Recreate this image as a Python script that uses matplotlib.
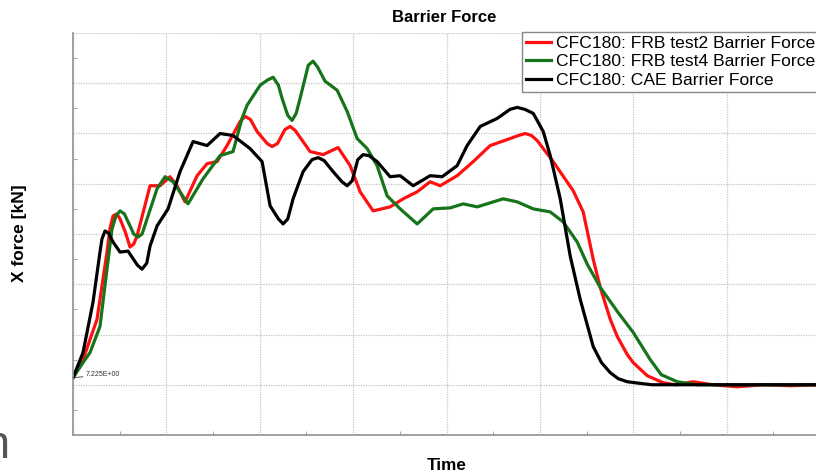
import matplotlib
matplotlib.use("Agg")
import matplotlib.pyplot as plt
from matplotlib.ticker import MultipleLocator, NullFormatter

plt.rcParams['font.family'] = ['Liberation Sans', 'DejaVu Sans']

# time [ms] and barrier force [kN]
t_test2 = [0, 1.07, 2.57, 3.64, 3.95, 4.29, 4.7, 5.04, 5.6, 6.11, 6.5, 6.86, 8.25, 9.32,
           10.39, 11.14, 12.0, 13.29, 14.36, 15.43, 16.5, 17.9, 18.43, 19.0, 19.71,
           20.8, 21.32, 21.9, 22.7, 23.25, 23.8, 25.39, 26.79, 28.39, 29.68, 30.75,
           32.14, 33.96, 35.36, 36.86, 38.25, 39.32, 41.14, 42.86, 44.68, 46.82, 47.7,
           48.43, 49.1, 49.71, 51.43, 53.57, 54.64, 55.71, 56.46, 57.54, 58.29, 59.36,
           60.0, 61.5, 63.2, 64.5, 66.43, 68.5, 71.14, 74.0, 76.82, 80.0]
f_test2 = [7, 25, 65, 132, 155, 168, 170, 165, 152, 137, 140, 148, 198, 198,
           207, 198, 182, 208, 220, 222, 238, 262, 267, 264, 252,
           240, 237, 240, 254, 257, 253, 232, 229, 236, 218, 192,
           173, 177, 185, 192, 202, 198, 208, 222, 238, 245, 248,
           250, 248, 243, 222, 193, 172, 125, 97, 65, 48, 30,
           22, 9, 2, 0, 3, 0, -2, 0, -1, 0]

t_test4 = [0, 1.07, 1.82, 2.89, 3.64, 4.18, 4.6, 5.04, 5.5, 6.11, 6.5, 6.96, 7.4, 7.93,
           9.0, 9.86, 10.71, 12.32, 13.93, 15.75, 17.14, 18.1, 18.64, 20.04, 20.8, 21.43,
           22.0, 22.39, 23.0, 23.46, 23.9, 24.32, 25.2, 25.71, 26.2, 27.0, 28.29, 29.36,
           30.43, 31.5, 32.57, 33.64, 35.04, 36.86, 38.57, 40.39, 41.79, 43.29, 46.07,
           47.57, 49.29, 51.11, 52.5, 54.0, 55.07, 56.46, 58.29, 60.0, 61.82, 63.0,
           64.71, 66.86, 80.0]
f_test4 = [7, 22, 32, 58, 115, 155, 168, 173, 170, 158, 150, 147, 150, 165,
           195, 207, 202, 180, 205, 228, 232, 265, 278, 298, 303, 306,
           298, 285, 268, 263, 270, 285, 318, 322, 316, 302, 293, 272,
           245, 235, 218, 188, 175, 160, 175, 176, 180, 177, 185,
           182, 175, 172, 162, 142, 120, 97, 73, 52, 25, 10,
           3, 0, 0]

t_cae = [0, 1.07, 2.14, 2.89, 3.1, 3.43, 3.8, 4.29, 5.04, 5.89, 6.9, 7.39, 7.9, 8.25,
         9.0, 10.18, 11.46, 12.86, 14.36, 15.75, 17.14, 18.96, 20.25, 21.11, 22.0,
         22.5, 23.0, 23.57, 24.64, 25.6, 26.25, 26.9, 27.86, 28.8, 29.36, 29.9, 30.5,
         31.07, 31.7, 32.57, 33.96, 35.04, 36.43, 38.25, 39.54, 41.14, 42.21, 43.61,
         45.43, 46.8, 47.57, 48.4, 49.29, 50.36, 51.11, 52.18, 53.25, 54.32, 55.71,
         56.6, 57.54, 58.4, 59.36, 61.07, 62.0, 80.0]
f_cae = [7, 32, 82, 132, 145, 153, 151, 142, 132, 133, 119, 115, 121, 138,
         158, 175, 212, 242, 238, 250, 248, 235, 222, 178, 165,
         160, 165, 185, 212, 224, 226, 223, 212, 202, 198, 203, 224,
         229, 228, 222, 207, 208, 198, 208, 207, 218, 238, 257,
         265, 274, 276, 274, 270, 252, 228, 185, 128, 85, 38,
         22, 12, 6, 3, 1, 0, 0]

labels = ['CFC180: FRB test2 Barrier Force',
          'CFC180: FRB test4 Barrier Force',
          'CFC180: CAE Barrier Force']

fig = plt.figure(figsize=(8.16, 4.72), dpi=100)
ax = fig.add_axes([73 / 816, 1 - 435 / 472, (820 - 73) / 816, 402 / 472])

ax.plot(t_test2, f_test2, color='#ff1010', lw=2.3, label=labels[0], solid_joinstyle='round')
ax.plot(t_test4, f_test4, color='#16741a', lw=2.3, label=labels[1], solid_joinstyle='round')
ax.plot(t_cae, f_cae, color='black', lw=2.3, label=labels[2], solid_joinstyle='round')

ax.set_xlim(0, 80)
ax.set_ylim(-50, 350)
ax.xaxis.set_major_locator(MultipleLocator(10))
ax.xaxis.set_minor_locator(MultipleLocator(5))
ax.yaxis.set_major_locator(MultipleLocator(50))
ax.yaxis.set_minor_locator(MultipleLocator(25))
ax.xaxis.set_major_formatter(NullFormatter())
ax.yaxis.set_major_formatter(NullFormatter())
ax.tick_params(which='major', length=0)
ax.tick_params(which='minor', length=3, direction='in', color='#999999')
ax.grid(True, which='major', color='#c4c4c4', linestyle=(0, (1, 1)), lw=0.9)
ax.set_axisbelow(True)
for s in ['top', 'right']:
    ax.spines[s].set_visible(False)
for s in ['left', 'bottom']:
    ax.spines[s].set_color('#999999')
    ax.spines[s].set_linewidth(1.3)

ax.annotate('7.225E+00', xy=(0, 7), xytext=(9, 2), textcoords='offset points',
            fontsize=5, va='center', color='#333333',
            arrowprops=dict(arrowstyle='-', color='#333333', lw=0.6, shrinkA=0, shrinkB=0))

fig.text(444 / 816, 1 - 17 / 472, 'Barrier Force', ha='center', va='center',
         fontsize=12, fontweight='bold')
fig.text(447 / 816, 1 - 465 / 472, 'Time', ha='center', va='center',
         fontsize=12.3, fontweight='bold')
fig.text(20 / 816, 1 - 233 / 472, 'X force [kN]', ha='center', va='center',
         rotation=90, fontsize=12.5, fontweight='bold')

# clipped character at the lower left edge of the screenshot
fig.text(10 / 816, 1 - 446 / 472, 'n', ha='right', va='center', fontsize=34, color='#555555')

leg = ax.legend(loc='upper left', bbox_to_anchor=(522 / 816, 1 - 32 / 472),
                bbox_transform=fig.transFigure, borderaxespad=0, fontsize=12.6,
                labelspacing=0.2, handlelength=1.45, handletextpad=0.3,
                borderpad=0.2, fancybox=False, framealpha=1, edgecolor='#888888')
leg.get_frame().set_linewidth(1.0)

fig.savefig('out.png', dpi=100)
